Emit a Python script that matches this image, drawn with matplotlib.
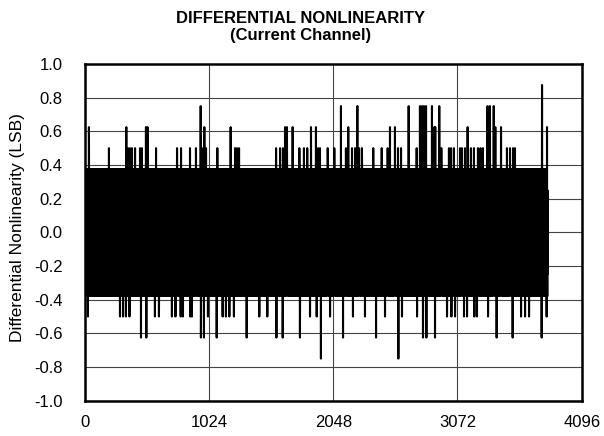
import matplotlib.pyplot as plt
import numpy as np

plt.rcParams['font.family'] = ['Liberation Sans', 'DejaVu Sans']
plt.rcParams['axes.unicode_minus'] = False

# codes measured by the converter (last code ~3815)
n_codes = 3816

# typical DNL values inside the dense band (LSB), repeats along the codes
base_pattern = [0.375, -0.375, 0.25, -0.25, 0.125, -0.375, 0.375, -0.125,
                0.0, -0.25, 0.25, -0.375]

# positive spikes
top_codes = [35, 200, 343, 357, 373, 390, 415, 456, 472, 505, 518, 588, 761,
             794, 868, 917, 956, 975, 986, 1000, 1093, 1203, 1239, 1255, 1272,
             1577, 1610, 1634, 1651, 1667, 1714, 1769, 1807, 1834, 1865, 1906,
             1923, 1939, 2003, 2057, 2112, 2153, 2172, 2203, 2228, 2247, 2261,
             2285, 2378, 2448, 2497, 2516, 2557, 2582, 2607, 2670, 2736, 2763,
             2780, 2796, 2813, 2862, 2881, 2889, 2922, 2939, 3002, 3019, 3043,
             3093, 3109, 3134, 3156, 3183, 3208, 3241, 3262, 3282, 3320, 3340,
             3371, 3384, 3431, 3480, 3505, 3530, 3546, 3769, 3810]
top_values = [0.625, 0.5, 0.625, 0.5, 0.5, 0.5, 0.5, 0.5, 0.5, 0.625, 0.625,
              0.5, 0.5, 0.5, 0.5, 0.5, 0.75, 0.5, 0.625, 0.5, 0.5, 0.625, 0.5,
              0.5, 0.5, 0.5, 0.5, 0.5, 0.625, 0.625, 0.625, 0.5, 0.5, 0.5,
              0.625, 0.625, 0.5, 0.5, 0.5, 0.5, 0.75, 0.5, 0.625, 0.5, 0.5,
              0.75, 0.5, 0.5, 0.5, 0.5, 0.5, 0.625, 0.625, 0.5, 0.5, 0.75, 0.5,
              0.75, 0.75, 0.75, 0.75, 0.75, 0.625, 0.625, 0.75, 0.5, 0.5, 0.5,
              0.5, 0.5, 0.5, 0.5, 0.625, 0.5, 0.5, 0.5, 0.5, 0.5, 0.75, 0.75,
              0.75, 0.625, 0.625, 0.5, 0.5, 0.5, 0.5, 0.875, 0.625]

# negative spikes
bottom_codes = [27, 291, 316, 340, 369, 464, 508, 579, 612, 719, 748, 791, 810,
                871, 884, 958, 983, 1016, 1088, 1137, 1164, 1192, 1230, 1335,
                1439, 1505, 1580, 1632, 1774, 1857, 1912, 1947, 2022, 2129,
                2211, 2310, 2401, 2475, 2585, 2615, 2739, 2788, 2816, 2887,
                2986, 3022, 3052, 3126, 3151, 3211, 3233, 3324, 3395, 3527,
                3596, 3629, 3662, 3766, 3807]
bottom_values = [-0.5, -0.5, -0.5, -0.5, -0.5, -0.625, -0.625, -0.5, -0.5,
                 -0.5, -0.5, -0.5, -0.5, -0.5, -0.5, -0.625, -0.625, -0.5,
                 -0.625, -0.5, -0.5, -0.5, -0.5, -0.625, -0.5, -0.5, -0.625,
                 -0.625, -0.625, -0.5, -0.5, -0.75, -0.5, -0.625, -0.5, -0.5,
                 -0.625, -0.5, -0.75, -0.5, -0.5, -0.625, -0.625, -0.625, -0.5,
                 -0.5, -0.5, -0.5, -0.5, -0.5, -0.5, -0.5, -0.625, -0.625,
                 -0.5, -0.5, -0.5, -0.625, -0.5]

x_ticks = [0, 1024, 2048, 3072, 4096]
y_ticks = [-1.0, -0.8, -0.6, -0.4, -0.2, 0.0, 0.2, 0.4, 0.6, 0.8, 1.0]

codes = np.arange(n_codes)
dnl = np.resize(np.array(base_pattern, dtype=float), n_codes)
dnl[top_codes] = top_values
dnl[bottom_codes] = bottom_values

fig = plt.figure(figsize=(6.04, 4.36), dpi=100)
ax = fig.add_axes([0.1402, 0.0810, 0.8229, 0.7722])

ax.plot(codes, dnl, color="black", linewidth=1.5, zorder=3)

ax.set_xlim(0, 4096)
ax.set_ylim(-1.0, 1.0)
ax.set_xticks(x_ticks)
ax.set_yticks(y_ticks)
ax.set_yticklabels([f"{v:.1f}" for v in y_ticks])
ax.tick_params(length=0, labelsize=12)
ax.tick_params(axis="y", pad=16)
ax.tick_params(axis="x", pad=10)
ax.grid(True, color="#444444", linewidth=0.8, zorder=1)
ax.set_axisbelow(True)
for s in ax.spines.values():
    s.set_linewidth(1.8)

ax.set_ylabel("Differential Nonlinearity (LSB)", fontsize=12.5)
ax.yaxis.set_label_coords(-0.12, 0.515)
fig.text(0.497, 0.975, "DIFFERENTIAL NONLINEARITY\n(Current Channel)",
         ha="center", va="top", fontsize=12, fontweight="bold", linespacing=1.2)

fig.savefig("out.png", dpi=100)
